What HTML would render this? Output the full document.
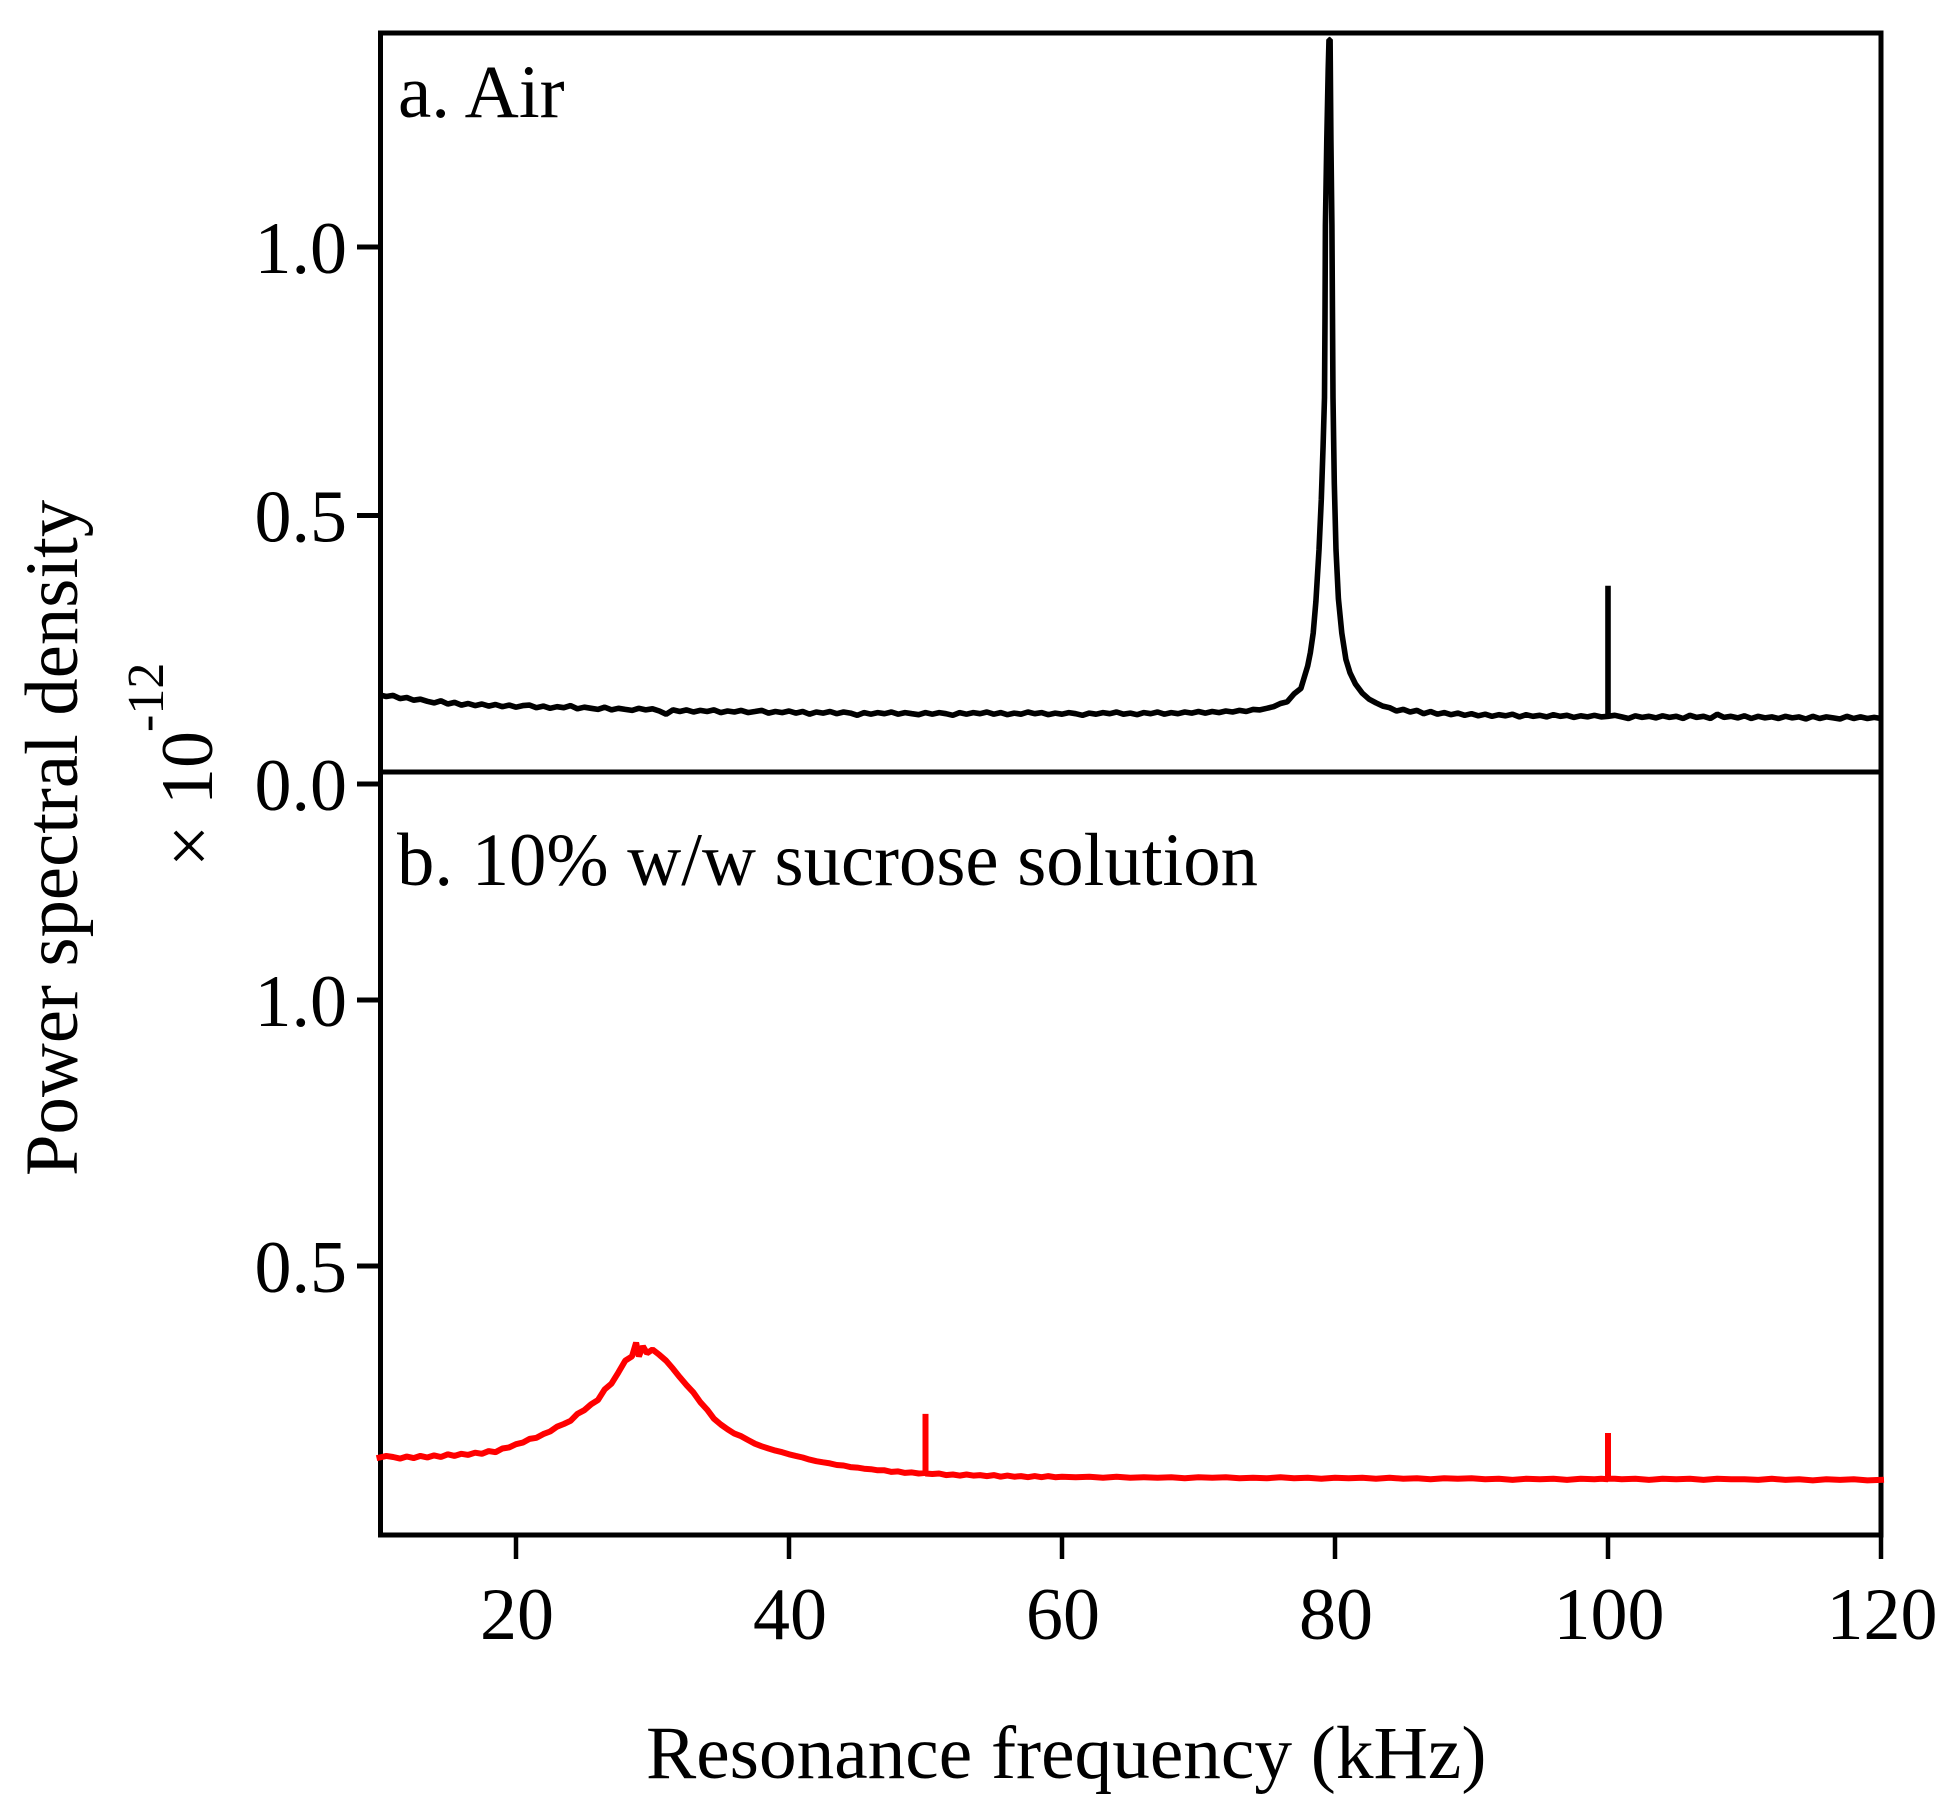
<!DOCTYPE html>
<html lang="en">
<head>
<meta charset="utf-8">
<title>Power spectral density: air vs. sucrose solution</title>
<style>
html,body{margin:0;padding:0;background:#fff;}
svg{display:block;}
text{font-family:"Liberation Serif",serif;fill:#000;}
</style>
</head>
<body>
<svg id="chart" xmlns="http://www.w3.org/2000/svg" width="1948" height="1815" viewBox="0 0 1948 1815">
  <rect x="0" y="0" width="1948" height="1815" fill="#fff"/>
  <g id="series-layer"></g>
  <g id="axes-layer"></g>
  <g id="overlay-layer"></g>
  <text x="398" y="117" font-size="75">a. Air</text>
  <text x="397" y="885" font-size="74.7">b. 10% w/w sucrose solution</text>
  <text x="646" y="1778" font-size="75.3">Resonance frequency (kHz)</text>
  <text transform="translate(77,1176) rotate(-90)" font-size="74.7">Power spectral density</text>
  <text transform="translate(214,867) rotate(-90)" font-size="75">×</text>
  <text transform="translate(212,805) rotate(-90)" font-size="74">10</text>
  <text transform="translate(163,732) rotate(-90)" font-size="52">-12</text>
</svg>
<script>
const xTicks = [20, 40, 60, 80, 100, 120];
const xTickLabels = ["20", "40", "60", "80", "100", "120"];
const yTicksAir = [0, 0.5, 1];
const yTickLabelsAir = ["0.0", "0.5", "1.0"];
const yTicksSucrose = [0.5, 1];
const yTickLabelsSucrose = ["0.5", "1.0"];

const freqAir = [10,10.5,11,11.5,12,12.5,13,13.5,14,14.5,15,15.5,16,16.5,17,17.5,18,18.5,19,19.5,20,
20.5,21,21.5,22,22.5,23,23.5,24,24.5,25,25.5,26,26.5,27,27.5,28,28.5,29,29.5,30,
30.5,31,31.5,32,32.5,33,33.5,34,34.5,35,35.5,36,36.5,37,37.5,38,38.5,39,39.5,40,
40.5,41,41.5,42,42.5,43,43.5,44,44.5,45,45.5,46,46.5,47,47.5,48,48.5,49,49.5,50,
50.5,51,51.5,52,52.5,53,53.5,54,54.5,55,55.5,56,56.5,57,57.5,58,58.5,59,59.5,60,
60.5,61,61.5,62,62.5,63,63.5,64,64.5,65,65.5,66,66.5,67,67.5,68,68.5,69,69.5,70,
70.5,71,71.5,72,72.5,73,73.5,74,74.5,75,75.5,76,76.5,77,77.5,78,78.2,78.4,78.6,78.83,79,79.13,79.23,79.27,79.3,79.4,79.5,79.56,
79.64,79.7,79.77,79.82,79.85,79.95,80.07,80.25,80.5,80.8,81.1,81.5,82,82.5,83,83.5,84,84.5,85,
85.5,86,86.5,87,87.5,88,88.5,89,89.5,90,90.5,91,91.5,92,92.5,93,93.5,94,94.5,95,
95.5,96,96.5,97,97.5,98,98.5,99,99.5,100,100,100,100.5,101,101.5,102,102.5,103,103.5,104,104.5,105,
105.5,106,106.5,107,107.5,108,108.5,109,109.5,110,110.5,111,111.5,112,112.5,113,113.5,114,114.5,115,
115.5,116,116.5,117,117.5,118,118.5,119,119.5,120];
const powerAir = [.166,.163,.165,.159,.161,.156,.158,.154,.151,.155,.149,.152,.147,.150,.146,.149,.145,.148,.144,.147,.143,
.146,.147,.142,.145,.141,.144,.142,.146,.140,.143,.141,.139,.143,.138,.141,.139,.137,.141,.138,.140,
.136,.130,.138,.135,.138,.134,.137,.135,.138,.133,.136,.134,.137,.133,.135,.137,.132,.135,.133,.136,
.132,.135,.130,.134,.132,.135,.131,.134,.132,.128,.133,.130,.133,.131,.134,.130,.133,.131,.129,.133,
.130,.133,.131,.128,.133,.130,.133,.131,.134,.130,.133,.129,.132,.130,.134,.131,.133,.129,.132,.130,
.133,.131,.128,.132,.130,.133,.131,.134,.130,.132,.129,.133,.131,.134,.130,.133,.131,.134,.132,.135,
.132,.135,.133,.136,.134,.137,.135,.139,.138,.141,.144,.150,.153,.168,.178,.220,.245,.281,.340,.436,.530,.630,.720,.868,1.04,1.20,1.33,1.386,
1.386,1.20,1.04,.868,.720,.560,.436,.345,.281,.232,.207,.186,.169,.158,.151,.145,.142,.136,.139,
.134,.137,.131,.135,.130,.133,.129,.132,.128,.131,.127,.130,.126,.129,.127,.130,.125,.129,.126,.128,
.125,.129,.126,.128,.124,.127,.125,.128,.125,.126,.369,.126,.128,.125,.122,.127,.124,.126,.123,.127,.124,.126,
.122,.128,.124,.126,.122,.130,.124,.126,.123,.127,.122,.126,.123,.125,.122,.126,.123,.125,.121,.126,
.122,.125,.123,.121,.126,.122,.125,.122,.124,.122];

const freqSucrose = [10,10.5,11,11.5,12,12.5,13,13.5,14,14.5,15,15.5,16,16.5,17,17.5,18,18.5,19,19.5,20,
20.5,21,21.5,22,22.5,23,23.5,24,24.5,25,25.5,26,26.5,27,27.5,28,28.5,28.8,29,29.3,29.6,30,
30.5,31,31.5,32,32.5,33,33.5,34,34.5,35,35.5,36,36.5,37,37.5,38,38.5,39,39.5,40,
40.5,41,41.5,42,42.5,43,43.5,44,44.5,45,45.5,46,46.5,47,47.5,48,48.5,49,49.5,50,50,50,
50.5,51,51.5,52,52.5,53,53.5,54,54.5,55,55.5,56,56.5,57,57.5,58,58.5,59,59.5,60,
61,62,63,64,65,66,67,68,69,70,71,72,73,74,75,76,77,78,79,80,
81,82,83,84,85,86,87,88,89,90,91,92,93,94,95,96,97,98,99,99.5,100,100,100,
100.5,101,102,103,104,105,106,107,108,109,110,111,112,113,114,115,116,117,118,119,120];
const powerSucrose = [.140,.143,.141,.138,.142,.139,.143,.140,.144,.141,.146,.143,.147,.145,.149,.147,.152,.150,.157,.159,.165,
.168,.175,.177,.184,.189,.198,.203,.209,.222,.229,.240,.248,.268,.279,.300,.322,.330,.356,.330,.349,.336,.343,
.333,.322,.307,.291,.276,.262,.244,.230,.213,.202,.193,.185,.180,.173,.166,.161,.157,.153,.150,.146,
.143,.140,.136,.133,.131,.129,.126,.125,.122,.121,.119,.118,.116,.116,.113,.114,.111,.112,.110,.111,.222,.110,
.109,.110,.107,.108,.106,.108,.106,.107,.105,.107,.104,.106,.104,.105,.103,.105,.103,.105,.103,.104,
.103,.104,.102,.104,.102,.103,.102,.103,.101,.103,.102,.103,.101,.102,.101,.103,.101,.102,.100,.102,
.101,.102,.100,.102,.100,.101,.099,.101,.100,.101,.099,.100,.098,.100,.099,.100,.098,.100,.099,.100,.099,.186,.100,
.100,.099,.100,.098,.100,.099,.100,.098,.100,.099,.099,.098,.100,.098,.099,.097,.099,.098,.099,.097,.098];

const NS = "http://www.w3.org/2000/svg";
const plotLeft = 380.5, plotRight = 1881, panelTop = 33, panelSplit = 772, panelBottom = 1535;
function xScale(f) { return 516 + (f - 20) * 13.65; }
function yAir(v) { return 784 - v * 537; }
function ySucrose(v) { return 1532 - v * 532; }

const seriesLayer = document.getElementById("series-layer");
const axesLayer = document.getElementById("axes-layer");

function linePath(xs, ys, yFn) {
  return xs.map(function (f, i) {
    return (i ? "L" : "M") + xScale(f).toFixed(1) + " " + yFn(ys[i]).toFixed(1);
  }).join(" ");
}

const airLine = document.createElementNS(NS, "path");


airLine.setAttribute("d", linePath(freqAir, powerAir, yAir));
airLine.setAttribute("fill", "none");
airLine.setAttribute("stroke", "#000");
airLine.setAttribute("stroke-width", "5.6");
airLine.setAttribute("stroke-linejoin", "bevel");
seriesLayer.appendChild(airLine);

function axisLine(x1, y1, x2, y2, w) {
  const l = document.createElementNS(NS, "line");
  l.setAttribute("x1", x1);
  l.setAttribute("y1", y1);
  l.setAttribute("x2", x2);
  l.setAttribute("y2", y2);
  l.setAttribute("stroke", "#000");
  l.setAttribute("stroke-width", w);
  axesLayer.appendChild(l);
  return l;
}

const frameTop = axisLine(plotLeft - 2.5, panelTop, plotRight + 2.5, panelTop, 5);


const frameSplit = axisLine(plotLeft, panelSplit, plotRight, panelSplit, 5);


const frameBottom = axisLine(plotLeft - 2.5, panelBottom, plotRight + 2.5, panelBottom, 5);


const frameLeft = axisLine(plotLeft, panelTop, plotLeft, panelBottom, 5);


const frameRight = axisLine(plotRight, panelTop, plotRight, panelBottom, 5);



function axisText(str, x, y, anchor) {
  const t = document.createElementNS(NS, "text");
  t.setAttribute("x", x);
  t.setAttribute("y", y);
  t.setAttribute("font-size", "74");
  t.setAttribute("text-anchor", anchor);
  t.textContent = str;
  axesLayer.appendChild(t);
  return t;
}

xTicks.forEach(function (f, i) {
  const x = xScale(f);
  const tick = axisLine(x, panelBottom, x, 1559, 4.5);
  
  
  const label = axisText(xTickLabels[i], x + 1, 1639, "middle");
  
  
});

yTicksAir.forEach(function (v, i) {
  const y = yAir(v);
  const tick = axisLine(357, y, plotLeft, y, 5);
  
  
  const label = axisText(yTickLabelsAir[i], 347, y + 26, "end");
  
  
});

yTicksSucrose.forEach(function (v, i) {
  const y = ySucrose(v);
  const tick = axisLine(357, y, plotLeft, y, 5);
  
  
  const label = axisText(yTickLabelsSucrose[i], 347, y + 26, "end");
  
  
});

const sucroseLine = document.createElementNS(NS, "path");


sucroseLine.setAttribute("d", linePath(freqSucrose, powerSucrose, ySucrose));
sucroseLine.setAttribute("fill", "none");
sucroseLine.setAttribute("stroke", "#ff0000");
sucroseLine.setAttribute("stroke-width", "6");
sucroseLine.setAttribute("stroke-linejoin", "bevel");
sucroseLine.setAttribute("stroke-linecap", "square");
document.getElementById("overlay-layer").appendChild(sucroseLine);
</script>
</body>
</html>
